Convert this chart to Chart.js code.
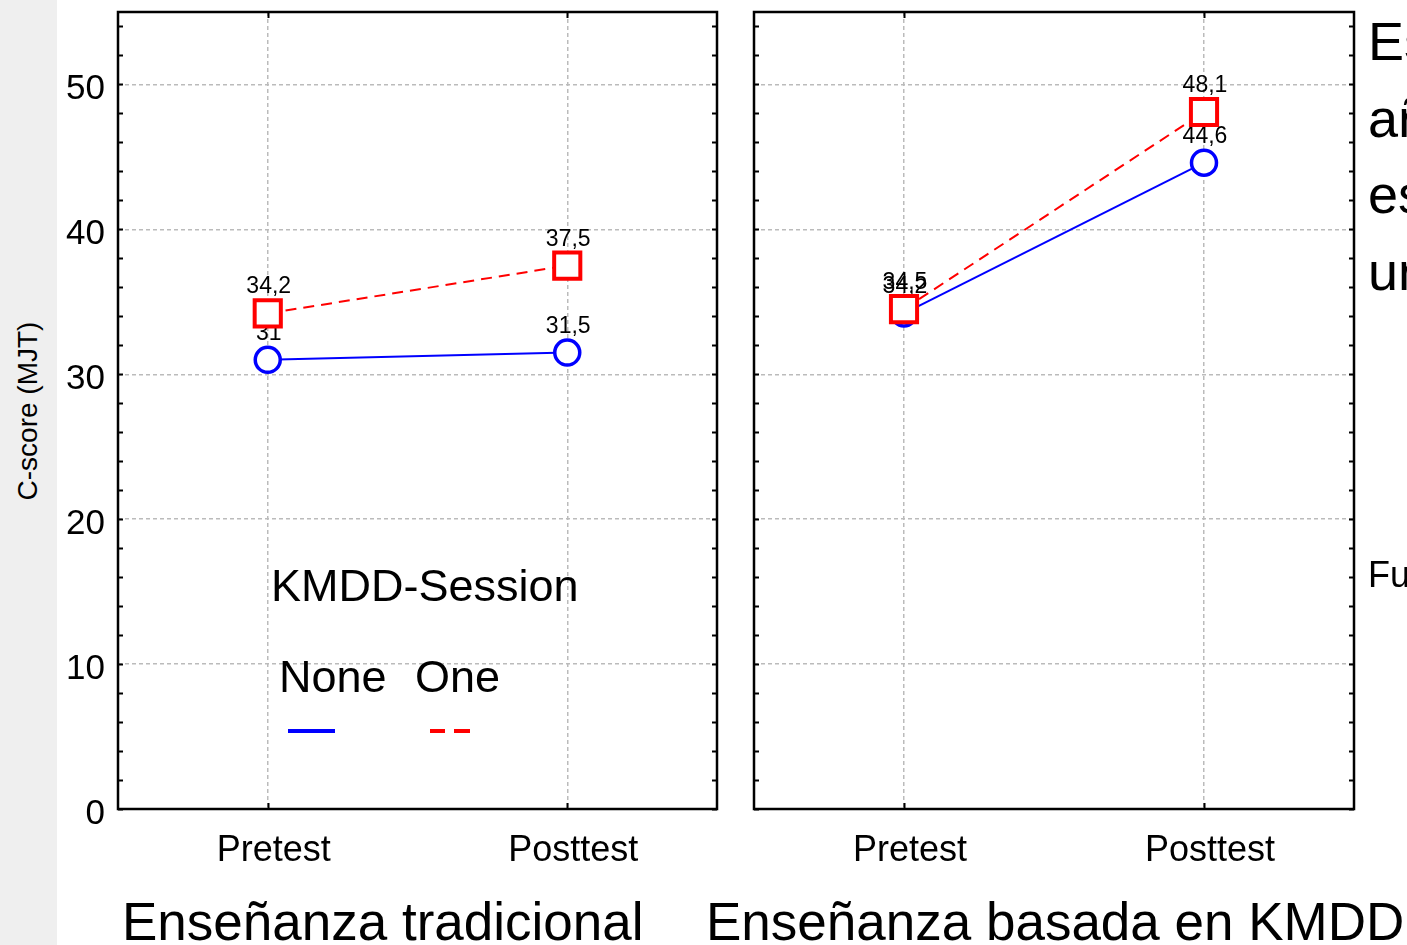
<!DOCTYPE html>
<html>
<head>
    <title>C-score (MJT)</title>
    <script src="https://cdn.jsdelivr.net/npm/chart.js"></script>
    <style>
        body { margin: 0; width: 1407px; height: 945px; overflow: hidden; background: #fff; position: relative;
               font-family: "Liberation Sans", Arial, Helvetica, sans-serif; }
        .strip { position: absolute; left: 0; top: 0; width: 57px; height: 945px; background: #efefef; }
        .txt { position: absolute; white-space: nowrap; color: #000; }
        canvas { position: absolute; top: 0; }
    </style>
</head>
<body>
    <div class="strip"></div>
    <div class="txt" style="left:28px; top:411px; font-size:28px; line-height:28px; transform: translate(-50%, -50%) rotate(-90deg);">C-score (MJT)</div>
    <canvas id="left" width="737" height="870" style="left:0"></canvas>
    <canvas id="right" width="670" height="870" style="left:737px"></canvas>
    <div class="txt" style="left:122px; top:895px; font-size:53px; line-height:53px;">Enseñanza tradicional</div>
    <div class="txt" style="left:706px; top:895px; font-size:53px; line-height:53px;">Enseñanza basada en KMDD</div>
    <div class="txt" style="left:1368px; top:14px; font-size:54px; line-height:54px;">Es</div>
    <div class="txt" style="left:1368px; top:91px; font-size:54px; line-height:54px;">añ</div>
    <div class="txt" style="left:1368px; top:167px; font-size:54px; line-height:54px;">es</div>
    <div class="txt" style="left:1368px; top:244px; font-size:54px; line-height:54px;">un</div>
    <div class="txt" style="left:1368px; top:557px; font-size:36px; line-height:36px;">Fu</div>

    <script>
        // data
        const categories = ["Pretest", "Posttest"];
        const seriesNames = ["None", "One"];
        const tradNone = [31, 31.5];
        const tradOne = [34.2, 37.5];
        const kmddNone = [34.2, 44.6];
        const kmddOne = [34.5, 48.1];
        const yTicks = [0, 10, 20, 30, 40, 50];

        const FONT = "'Liberation Sans', Arial, Helvetica, sans-serif";

        // frame, inward ticks, value labels and the legend
        const framePlugin = {
            id: "frame",
            beforeDatasetsDraw(chart) {
                const ctx = chart.ctx;
                ctx.save();
                ctx.fillStyle = "#000";
                ctx.font = "23px " + FONT;
                ctx.textAlign = "center";
                ctx.textBaseline = "alphabetic";
                chart.data.datasets.forEach((ds, i) => {
                    chart.getDatasetMeta(i).data.forEach((pt, j) => {
                        ctx.fillText(String(ds.data[j]).replace(".", ","), pt.x + 1, pt.y - 20);
                    });
                });
                ctx.restore();
            },
            afterDraw(chart, args, opts) {
                const ctx = chart.ctx;
                const a = chart.chartArea;
                const y = chart.scales.y;
                const x = chart.scales.x;
                ctx.save();
                ctx.strokeStyle = "#000";
                ctx.lineWidth = 2;
                ctx.beginPath();
                for (let v = 0; v <= 55; v += 2) {
                    const py = Math.round(y.getPixelForValue(v)) + 0.5;
                    ctx.moveTo(a.left, py); ctx.lineTo(a.left + 5, py);
                    ctx.moveTo(a.right, py); ctx.lineTo(a.right - 5, py);
                }
                categories.forEach((c, i) => {
                    const px = Math.round(x.getPixelForValue(i)) + 0.5;
                    ctx.moveTo(px, a.top); ctx.lineTo(px, a.top + 6);
                    ctx.moveTo(px, a.bottom); ctx.lineTo(px, a.bottom - 6);
                });
                ctx.stroke();
                ctx.lineWidth = 2.5;
                ctx.strokeRect(a.left, a.top, a.right - a.left, a.bottom - a.top);

                if (opts.legend) {
                    const ds = chart.data.datasets;
                    ctx.fillStyle = "#000";
                    ctx.textAlign = "left";
                    ctx.textBaseline = "alphabetic";
                    ctx.font = "45px " + FONT;
                    ctx.fillText("KMDD-Session", 271, 601);
                    ctx.fillText(ds[0].label, 279, 692);
                    ctx.fillText(ds[1].label, 415, 692);
                    ctx.lineWidth = 4;
                    ctx.strokeStyle = ds[0].borderColor;
                    ctx.beginPath(); ctx.moveTo(288, 731); ctx.lineTo(335, 731); ctx.stroke();
                    ctx.strokeStyle = ds[1].borderColor;
                    ctx.beginPath();
                    ctx.moveTo(430, 731); ctx.lineTo(445, 731);
                    ctx.moveTo(454, 731); ctx.lineTo(470, 731);
                    ctx.stroke();
                }
                ctx.restore();
            }
        };

        function makeChart(id, none, one, showY, pad, legend) {
            return new Chart(document.getElementById(id), {
                type: "line",
                data: {
                    labels: categories,
                    datasets: [{
                        label: seriesNames[0],
                        data: none,
                        borderColor: "#0000ff",
                        borderWidth: 2,
                        pointStyle: "circle",
                        pointRadius: 12.5,
                        pointBorderWidth: 3.5,
                        pointBackgroundColor: "#fff",
                        pointBorderColor: "#0000ff",
                        order: 2
                    }, {
                        label: seriesNames[1],
                        data: one,
                        borderColor: "#ff0000",
                        borderWidth: 2,
                        borderDash: [11, 7],
                        pointStyle: "rect",
                        pointRadius: 18.5,
                        pointBorderWidth: 4,
                        pointBackgroundColor: "#fff",
                        pointBorderColor: "#ff0000",
                        order: 1
                    }]
                },
                options: {
                    responsive: false,
                    animation: false,
                    layout: { padding: pad, autoPadding: false },
                    plugins: {
                        legend: { display: false },
                        tooltip: { enabled: false },
                        frame: { legend: legend }
                    },
                    scales: {
                        x: {
                            offset: true,
                            grid: { offset: false, color: "#bbbbbb", lineWidth: 1.5, drawTicks: false },
                            border: { display: false, dash: [4, 3] },
                            ticks: { color: "#000", font: { size: 36, family: FONT }, padding: 20, labelOffset: 6, maxRotation: 0 },
                            afterFit(s) { s.height = 61; s.paddingLeft = 0; s.paddingRight = 0; }
                        },
                        y: {
                            min: 0,
                            max: 55,
                            grid: { color: "#bbbbbb", lineWidth: 1.5, drawTicks: false },
                            border: { display: false, dash: [4, 3] },
                            ticks: { display: showY, color: "#000", font: { size: 35, family: FONT }, padding: 13, labelOffset: 5 },
                            afterBuildTicks(s) { s.ticks = yTicks.map(v => ({ value: v })); },
                            afterFit(s) { s.width = showY ? 61 : 0; s.paddingTop = 0; s.paddingBottom = 0; }
                        }
                    }
                },
                plugins: [framePlugin]
            });
        }

        makeChart("left", tradNone, tradOne, true, { left: 57, top: 12, right: 20, bottom: 0 }, true);
        makeChart("right", kmddNone, kmddOne, false, { left: 17, top: 12, right: 53, bottom: 0 }, false);
    </script>
</body>
</html>
